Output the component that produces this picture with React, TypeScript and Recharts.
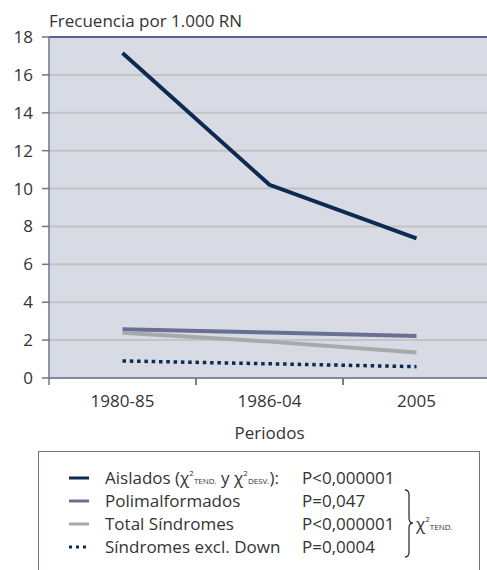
import React from 'react';
import { LineChart, Line, XAxis, YAxis, CartesianGrid, ReferenceLine } from 'recharts';

const periods = ['1980-85', '1986-04', '2005'];
const aislados = [17.15, 10.2, 7.37];
const polimalformados = [2.57, 2.4, 2.22];
const totalSindromes = [2.39, 1.92, 1.34];
const exclDown = [0.9, 0.75, 0.6];
const yTicks = [0, 2, 4, 6, 8, 10, 12, 14, 16, 18];

const data = periods.map((p, i) => ({
  period: p,
  aislados: aislados[i],
  polimalformados: polimalformados[i],
  totalSindromes: totalSindromes[i],
  exclDown: exclDown[i],
}));

const FONT = '"Open Sans", "Noto Sans", sans-serif';
const FS = 17;
const AXIS = '#6f7593';
const W = 495;
const H = 570;
const M = { top: 37, right: 5, left: 0, bottom: 122 };
const Y_W = 49;
const band = (W - M.left - M.right - Y_W) / periods.length;

const series = [
  { key: 'aislados', name: 'Aislados', p: 'P<0,000001', color: '#0c2a52', dash: undefined },
  { key: 'polimalformados', name: 'Polimalformados', p: 'P=0,047', color: '#6a7095', dash: undefined },
  { key: 'totalSindromes', name: 'Total Síndromes', p: 'P<0,000001', color: '#a7a9ab', dash: undefined },
  { key: 'exclDown', name: 'Síndromes excl. Down', p: 'P=0,0004', color: '#0c2a52', dash: '3.5 3.8' },
];

const XTick = (props: any) => {
  const { x, y, payload } = props;
  const left = x - band / 2;
  return (
    <g>
      <line x1={left} x2={left} y1={y} y2={y + 7} stroke={AXIS} strokeWidth={1.5} />
      <line x1={left + band} x2={left + band} y1={y} y2={y + 7} stroke={AXIS} strokeWidth={1.5} />
      <text x={x} y={y + 29} textAnchor="middle" fill="#333" fontSize={FS} fontFamily={FONT}>
        {payload.value}
      </text>
    </g>
  );
};

const chi = (sub: string) => (
  <span>
    χ<span style={{ fontSize: 8, position: 'relative', top: -8, lineHeight: 0 }}>2</span>
    <span style={{ fontSize: 8, lineHeight: 0 }}>{sub}</span>
  </span>
);

export default function App() {
  return (
    <div style={{ position: 'fixed', left: 0, top: 0, width: 487, height: 570, overflow: 'hidden', background: '#fff' }}>
      <LineChart width={W} height={H} data={data} margin={M}>
        <CartesianGrid vertical={false} fill="#d9dbe4" stroke="#c2c3c6" strokeWidth={2} />
        <XAxis
          dataKey="period"
          padding={{ left: band / 2, right: band / 2 }}
          stroke={AXIS}
          strokeWidth={1.5}
          tickLine={false}
          tickSize={0}
          tickMargin={0}
          height={70}
          tick={<XTick />}
          label={{
            content: ({ viewBox }: any) => (
              <text x={viewBox.x + viewBox.width / 2} y={viewBox.y + 61} textAnchor="middle" fill="#333" fontSize={FS} fontFamily={FONT}>
                Periodos
              </text>
            ),
          }}
        />
        <YAxis
          width={Y_W}
          domain={[0, 18]}
          ticks={yTicks}
          interval={0}
          stroke={AXIS}
          strokeWidth={1.5}
          tickSize={7}
          tickMargin={9}
          tick={{ fill: '#333', fontSize: FS, fontFamily: FONT }}
          label={{
            content: ({ viewBox }: any) => (
              <text x={viewBox.x + viewBox.width} y={viewBox.y - 10} fill="#333" fontSize={FS} fontFamily={FONT}>
                Frecuencia por 1.000 RN
              </text>
            ),
          }}
        />
        <ReferenceLine y={18} stroke="#5c6488" strokeWidth={2} />
        {series.map((s) => (
          <Line
            key={s.key}
            type="linear"
            dataKey={s.key}
            stroke={s.color}
            strokeWidth={s.dash ? 3.5 : 4}
            strokeDasharray={s.dash}
            dot={false}
            activeDot={false}
            isAnimationActive={false}
          />
        ))}
      </LineChart>
      <div
        style={{
          position: 'absolute',
          left: 38,
          top: 451,
          width: 440,
          height: 140,
          border: `1px solid ${AXIS}`,
          background: '#fff',
          fontFamily: FONT,
          fontSize: FS,
          color: '#333',
        }}
      >
        {series.map((s, i) => (
          <div key={s.key} style={{ position: 'absolute', left: 0, top: 15 + i * 23, height: 22, width: '100%' }}>
            <svg width={24} height={22} style={{ position: 'absolute', left: 29, top: 0 }}>
              <line x1={1} x2={21} y1={11} y2={11} stroke={s.color} strokeWidth={3} strokeDasharray={s.dash ? '3 4' : undefined} />
            </svg>
            <span style={{ position: 'absolute', left: 66, top: 0, lineHeight: '22px', whiteSpace: 'nowrap' }}>
              {i === 0 ? (
                <>
                  {s.name} ({chi('TEND.')} y {chi('DESV.')}):
                </>
              ) : (
                s.name
              )}
            </span>
            <span style={{ position: 'absolute', left: 263, top: 0, lineHeight: '22px' }}>{s.p}</span>
          </div>
        ))}
        <svg width={14} height={70} style={{ position: 'absolute', left: 364, top: 37 }}>
          <path d="M2 1 Q6 1 6 6 L6 29 Q6 34 10 34 Q6 34 6 39 L6 63 Q6 68 2 68" fill="none" stroke="#333" strokeWidth={1.3} />
        </svg>
        <span style={{ position: 'absolute', left: 377, top: 61, lineHeight: '22px' }}>{chi('TEND.')}</span>
      </div>
    </div>
  );
}
